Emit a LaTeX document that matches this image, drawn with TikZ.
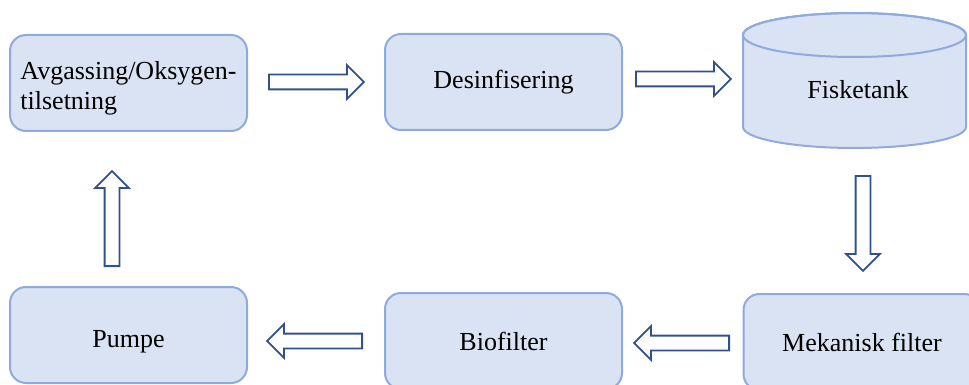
\documentclass[tikz,border=0pt]{standalone}
\usepackage{fontspec}
\setmainfont{Liberation Serif}
\usetikzlibrary{shapes.arrows}

\definecolor{boxline}{HTML}{8FAADC}
\definecolor{boxfill}{HTML}{DAE3F3}
\definecolor{arrowline}{HTML}{2F528F}

\tikzset{
    stage/.style={draw=boxline, fill=boxfill, line width=1pt, rounded corners=8pt,
        minimum width=118.5pt, minimum height=48pt, font=\fontsize{13}{15}\selectfont},
    flow/.style={single arrow, draw=arrowline, fill=white, line width=0.9pt,
        minimum height=47.5pt, minimum width=16pt, single arrow head extend=4.75pt,
        inner xsep=0pt, inner ysep=3.25pt, anchor=tail}
}

\begin{document}
\begin{tikzpicture}[x=0.5pt, y=-0.5pt]

    \useasboundingbox (0,0) rectangle (969,385);

    % Top row
    \node[stage, align=left] (avgassing) at (128.5,83)
        {\raisebox{-2.75pt}[\height][\depth]{Avgassing/Oksygen-}\\
         \raisebox{-2.75pt}[\height][\depth]{tilsetning}};
    \node[stage] (desinfisering) at (503.5,82) {Desinfisering};

    % Tank
    \filldraw[draw=boxline, fill=boxfill, line width=1pt]
        (743,35) -- (743,127) arc[start angle=180, end angle=0, x radius=111.5, y radius=21]
        -- (966,35) arc[start angle=0, end angle=-180, x radius=111.5, y radius=22] -- cycle;
    \draw[boxline, line width=1pt] (854.5,35) ellipse[x radius=111.5, y radius=22];
    \node[font=\fontsize{13}{15}\selectfont] (fisketank) at (858,90) {Fisketank};

    % Bottom row
    \node[stage] (mekfilter) at (862,342) {Mekanisk filter};
    \node[stage] (biofilter) at (503.5,341) {Biofilter};
    \node[stage] (pumpe) at (128.5,335) {\raisebox{-3.6pt}[\height][\depth]{Pumpe}};

    % Block arrows
    \node[flow] (flow1) at (268,82) {};
    \node[flow] (flow2) at (635,79) {};
    \node[flow, rotate=-90] (flow3) at (863,175) {};
    \node[flow, rotate=180] (flow4) at (730,343) {};
    \node[flow, rotate=180] (flow5) at (363,341) {};
    \node[flow, rotate=90] (flow6) at (112,267) {};

\end{tikzpicture}
\end{document}
